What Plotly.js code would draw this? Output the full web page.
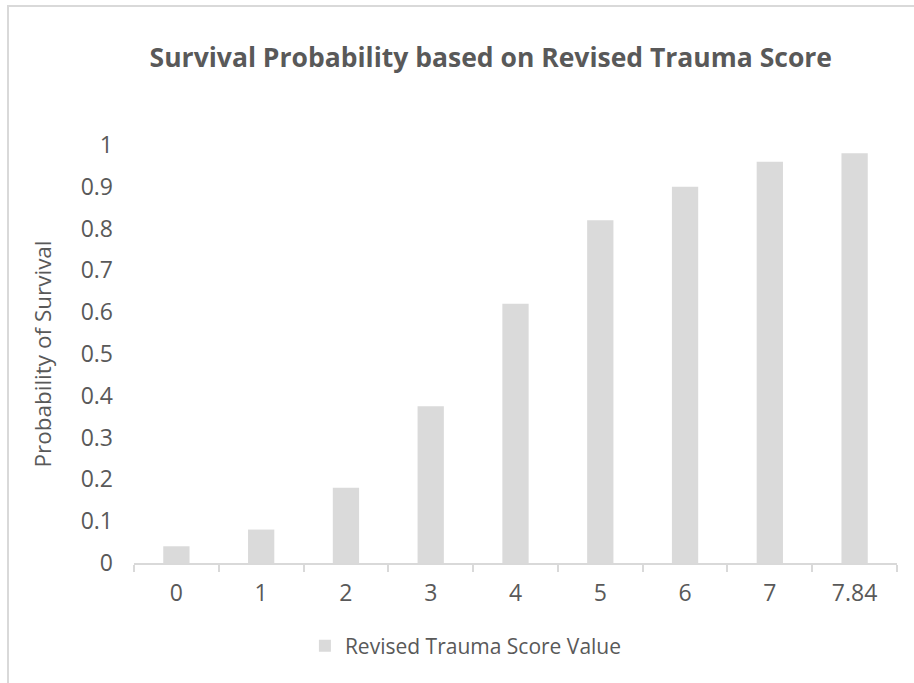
<!DOCTYPE html>
<html>
<head>
<meta charset="utf-8">
<script src="https://cdn.plot.ly/plotly-3.0.1.min.js"></script>
<style>
html,body{margin:0;padding:0;background:#fff;overflow:hidden;}
#frame{position:absolute;left:7px;top:5px;width:1000px;height:800px;border-left:2px solid #d9d9d9;border-top:2px solid #d9d9d9;}
#chart{position:absolute;left:0;top:0;width:914px;height:683px;}
</style>
</head>
<body>
<div id="frame"></div>
<div id="chart"></div>
<script>
var categories = ["0", "1", "2", "3", "4", "5", "6", "7", "7.84"];
var survival = [0.04, 0.08, 0.18, 0.375, 0.62, 0.82, 0.90, 0.96, 0.98];
var yTicks = [0, 0.1, 0.2, 0.3, 0.4, 0.5, 0.6, 0.7, 0.8, 0.9, 1];
var yTickText = ["0", "0.1", "0.2", "0.3", "0.4", "0.5", "0.6", "0.7", "0.8", "0.9", "1"];

var font = "Open Sans, Noto Sans, sans-serif";
var textColor = "#595959";

var trace = {
  type: "bar",
  x: categories,
  y: survival,
  name: "Revised Trauma Score Value",
  marker: {color: "#dadada"},
  hoverinfo: "x+y"
};

var layout = {
  width: 914,
  height: 683,
  paper_bgcolor: "rgba(0,0,0,0)",
  plot_bgcolor: "rgba(0,0,0,0)",
  margin: {l: 134, r: 17, t: 145, b: 120},
  bargap: 0.69,
  showlegend: true,
  legend: {
    orientation: "h",
    x: 0.224, xanchor: "left", xref: "paper",
    y: -0.15, yanchor: "top",
    font: {family: font, size: 21, color: textColor},
    itemwidth: 30
  },
  title: {
    text: "<b>Survival Probability based on Revised Trauma Score</b>",
    font: {family: font, size: 26.5, color: textColor},
    x: 0.537, xanchor: "center", xref: "container",
    y: 0.915, yanchor: "middle", yref: "container"
  },
  xaxis: {
    type: "category",
    showline: true,
    linecolor: "#d9d9d9",
    linewidth: 2,
    ticks: "outside",
    tickson: "boundaries",
    ticklen: 7,
    tickcolor: "#d9d9d9",
    tickwidth: 2,
    showgrid: false,
    zeroline: false,
    ticklabelstandoff: 8,
    tickfont: {family: font, size: 23, color: textColor},
    fixedrange: true
  },
  yaxis: {
    range: [0, 1],
    tickvals: yTicks,
    ticktext: yTickText,
    showline: false,
    showgrid: false,
    zeroline: false,
    ticks: "",
    ticklabelstandoff: 20,
    tickfont: {family: font, size: 23, color: textColor},
    title: {
      text: "Probability of Survival",
      font: {family: font, size: 22.5, color: textColor},
      standoff: 22
    },
    fixedrange: true
  }
};

Plotly.newPlot("chart", [trace], layout, {displayModeBar: false, staticPlot: true});
</script>
</body>
</html>
